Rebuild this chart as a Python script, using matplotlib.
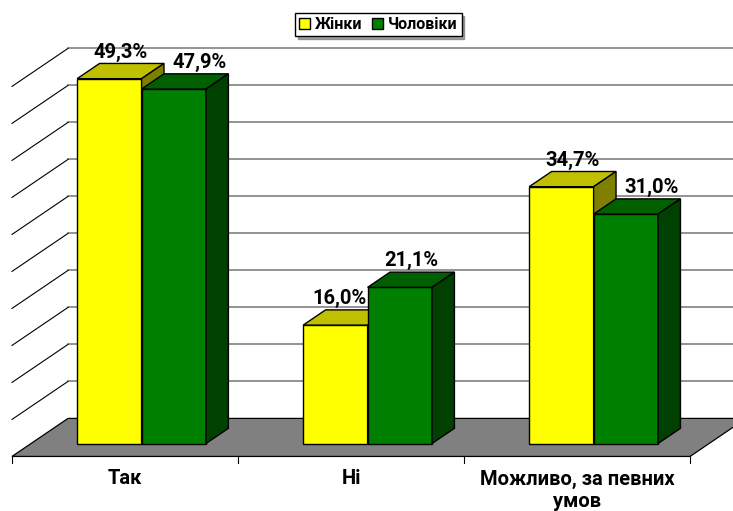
import matplotlib.pyplot as plt
from matplotlib.patches import Polygon, Patch

plt.rcParams['font.family'] = ['Roboto', 'DejaVu Sans']
plt.rcParams['font.weight'] = 'bold'

categories = ['Так', 'Ні', 'Можливо, за певних\nумов']
women = [49.3, 16.0, 34.7]
men = [47.9, 21.1, 31.0]
series_names = ['Жінки', 'Чоловіки']
grid_levels = [5, 10, 15, 20, 25, 30, 35, 40, 45, 50]

# face colours: front, top, side
yellow = ('#ffff00', '#c0c000', '#808000')
green = ('#008000', '#006000', '#004000')

# oblique projection: one unit of depth = floor depth
dep_x, dep_y = 0.248, 5.14
floor_front, floor_back = -0.34, 0.66
bar_depth = 0.40
bar_w = 0.285
group_shift = -0.011


def proj(x, v, d):
    return (x + (d - floor_front) * dep_x, v + d * dep_y)


fig = plt.figure(figsize=(7.33, 5.11), dpi=100)
ax = fig.add_axes([0, 0, 1, 1])
ax.set_xlim(-0.553, 2.690)
ax.set_ylim(-9.12, 59.93)
ax.axis('off')

n = len(categories)
left, right = -0.5, n - 0.5

# floor
floor = [proj(left, 0, floor_front), proj(right, 0, floor_front),
         proj(right, 0, floor_back), proj(left, 0, floor_back)]
ax.add_patch(Polygon(floor, closed=True, facecolor='#808080',
                     edgecolor='black', lw=0.9, zorder=2))

# walls: horizontal lines on back wall, diagonals on left wall
for g in grid_levels:
    x0, y0 = proj(left, g, floor_back)
    ax.plot([x0, right + 1], [y0, y0], color='#808080', lw=1.2, zorder=1)
    x1, y1 = proj(left, g, floor_front)
    ax.plot([x1, x0], [y1, y0], color='black', lw=0.8, zorder=1)

# category separator ticks
for i in range(n + 1):
    x, y = proj(i - 0.5, 0, floor_front)
    ax.plot([x, x], [y, y - 0.95], color='black', lw=0.8, zorder=3)

bx, by = bar_depth * dep_x, bar_depth * dep_y


def bar3d(c, v, cols, z, nudge=0.0):
    l, _ = proj(c - bar_w / 2, 0, 0)
    r, _ = proj(c + bar_w / 2, 0, 0)
    front = [(l, 0), (r, 0), (r, v), (l, v)]
    top = [(l, v), (r, v), (r + bx, v + by), (l + bx, v + by)]
    side = [(r, 0), (r, v), (r + bx, v + by), (r + bx, by)]
    for pts, fc in zip((front, top, side), cols):
        ax.add_patch(Polygon(pts, closed=True, facecolor=fc,
                             edgecolor='black', lw=1.0, zorder=z))
    ax.text((l + r + bx) / 2 + nudge, v + by + 0.8,
            f'{v:.1f}%'.replace('.', ','),
            ha='center', va='baseline', fontsize=14.5, fontweight='bold',
            zorder=10)


for i in range(n):
    gc = i + group_shift
    # push labels aside so they don't collide
    nudge_m = 0.065 if abs(women[i] - men[i]) < 4.5 else 0.0
    nudge_w = -0.03 if men[i] > women[i] else 0.0
    bar3d(gc - bar_w / 2, women[i], yellow, 4 + 2 * i, nudge_w)
    bar3d(gc + bar_w / 2, men[i], green, 5 + 2 * i, nudge_m)
    ax.text(i, -3.5, categories[i], ha='center', va='top', fontsize=14.5,
            fontweight='bold', linespacing=1.2)

handles = [Patch(facecolor=yellow[0], edgecolor='black', label=series_names[0]),
           Patch(facecolor=green[0], edgecolor='black', label=series_names[1])]
leg = fig.legend(handles=handles, loc='center', bbox_to_anchor=(0.516, 0.952),
                 ncol=2, frameon=True, fancybox=False, shadow=True,
                 prop={'weight': 'bold', 'size': 11.5}, handlelength=0.7,
                 handleheight=0.7, handletextpad=0.3, columnspacing=0.6,
                 borderpad=0.25, borderaxespad=0)
leg.get_frame().set_edgecolor('black')
leg.get_frame().set_linewidth(1.0)

fig.savefig('out.png', dpi=100)
